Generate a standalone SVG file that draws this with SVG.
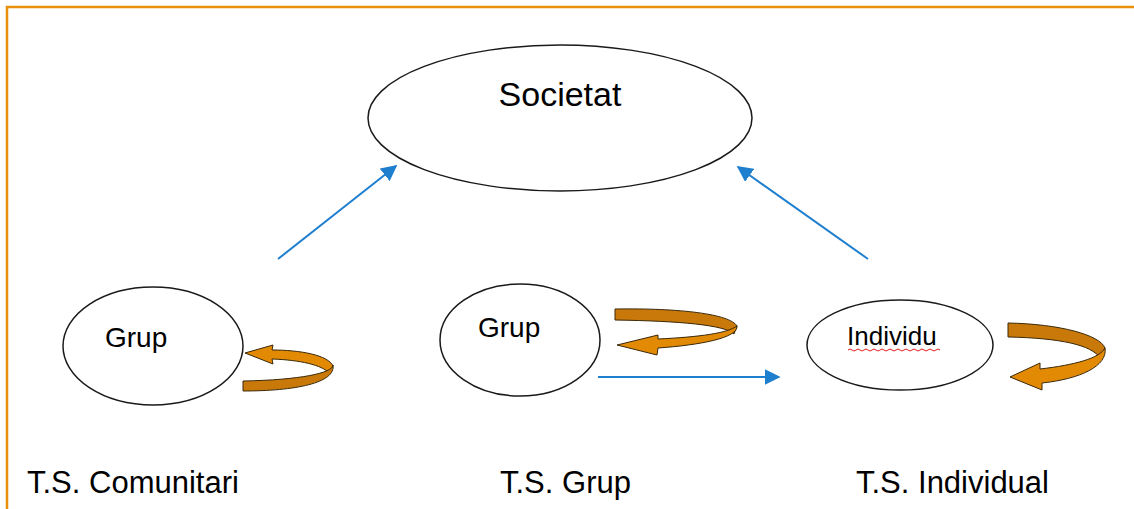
<svg xmlns="http://www.w3.org/2000/svg" width="1134" height="509" viewBox="0 0 1134 509">
<style>
.node{fill:#fff;stroke:#1a1a1a;stroke-width:1.5}
.t{font-family:"Liberation Sans",Arial,sans-serif;fill:#000}
.conn{stroke:#1f7fcf;stroke-width:2;fill:none}
.rib{fill:#E38A05;stroke:#3a2808;stroke-width:1}
.ribd{fill:#C9790A;stroke:#3a2808;stroke-width:1}
</style>
<defs>
<marker id="ahb" viewBox="0 0 10 10" refX="9" refY="5" markerWidth="16" markerHeight="16" orient="auto" markerUnits="userSpaceOnUse">
<path d="M0,0 L10,5 L0,10 Z" fill="#1f7fcf"/>
</marker>
</defs>
<rect width="1134" height="509" fill="#fff"/>
<path d="M7,509 L7,7 L1134,7" fill="none" stroke="#E8900A" stroke-width="2.5"/>

<g id="connectors">
<line class="conn" x1="278" y1="259" x2="396" y2="166" marker-end="url(#ahb)"/>
<line class="conn" x1="868" y1="259" x2="738" y2="167" marker-end="url(#ahb)"/>
<line class="conn" x1="598" y1="377" x2="779" y2="377" marker-end="url(#ahb)"/>
</g>

<g id="societat">
<ellipse class="node" cx="560" cy="118" rx="192" ry="73"/>
<text class="t" x="560" y="106" font-size="34" text-anchor="middle">Societat</text>
</g>

<g id="grup-comunitari">
<ellipse class="node" cx="153" cy="346" rx="90" ry="59"/>
<text class="t" x="105" y="347" font-size="28">Grup</text>
</g>

<g id="loop-comunitari">
<path class="rib" d="M245,353 L273,345 L272,350 C300,350 328,355 333,366 L329,373 C322,365 300,360 272,359 L273,364 Z"/>
<path class="ribd" d="M333,365 C333,373 300,380 243,381 L243,391 C295,391 336,383 333,365 Z"/>
</g>

<g id="grup-mijloc">
<ellipse class="node" cx="520" cy="340" rx="80" ry="56"/>
<text class="t" x="478" y="337" font-size="28">Grup</text>
</g>

<g id="loop-grup">
<path class="ribd" d="M615,309 C680,308 730,314 737,326 L734,334 C725,325 680,321 615,320 Z"/>
<path class="rib" d="M617,345 L658,335 L658,339 C700,337 728,333 737,326 C738,338 700,345 658,348 L657,355 Z"/>
</g>

<g id="individu">
<ellipse class="node" cx="900" cy="345" rx="93" ry="45"/>
<text class="t" x="847" y="345" font-size="26">Individu</text>
<path d="M848,350 q2,-2 4,0 t4,0 t4,0 t4,0 t4,0 t4,0 t4,0 t4,0 t4,0 t4,0 t4,0 t4,0 t4,0 t4,0 t4,0 t4,0 t4,0 t4,0 t4,0 t4,0 t4,0 t4,0 t4,0" fill="none" stroke="#e02020" stroke-width="1"/>
</g>

<g id="loop-individu">
<path class="ribd" d="M1008,323 C1060,324 1100,335 1105,348 L1100,358 C1092,345 1060,338 1008,337 Z"/>
<path class="rib" d="M1010,377 L1040,363 L1040,369 C1075,365 1100,358 1105,348 C1108,366 1080,379 1042,383 L1042,390 Z"/>
</g>

<g id="labels">
<text class="t" x="27" y="493" font-size="31">T.S. Comunitari</text>
<text class="t" x="500" y="493" font-size="31">T.S. Grup</text>
<text class="t" x="856" y="493" font-size="31">T.S. Individual</text>
</g>
</svg>
